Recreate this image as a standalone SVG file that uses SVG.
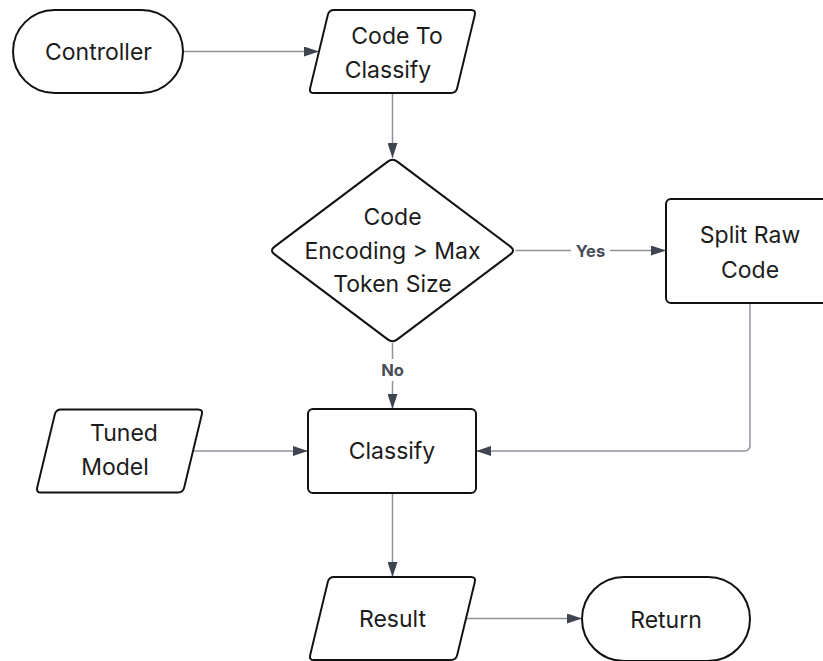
<svg xmlns="http://www.w3.org/2000/svg" width="823" height="661" viewBox="0 0 823 661">
  <style>
    .shape { fill: #ffffff; stroke: #111111; stroke-width: 2; stroke-linejoin: round; }
    .label { font-family: Inter, "Noto Sans", "Liberation Sans", sans-serif; font-size: 23px; fill: #1c1c1c; text-anchor: middle; }
    .edge { fill: none; stroke: #8e939b; stroke-width: 1.5; }
    .edge-label { font-family: Inter, "Noto Sans", "Liberation Sans", sans-serif; font-size: 16.5px; font-weight: 700; fill: #474d58; text-anchor: middle; }
  </style>
  <defs>
    <marker id="arrow" markerUnits="userSpaceOnUse" viewBox="0 0 15 10" refX="15" refY="5" markerWidth="15" markerHeight="10" orient="auto">
      <path d="M0,0 L15,5 L0,10 Z" fill="#3e4450"/>
    </marker>
    <!-- data (input/output) shape, centred on the origin -->
    <path id="para" d="M -58.5,-41.5 L 78.5,-41.5 Q 83.5,-41.5 82.33,-36.64 L 64.67,36.64 Q 63.5,41.5 58.5,41.5 L -78.5,41.5 Q -83.5,41.5 -82.33,36.64 L -64.67,-36.64 Q -63.5,-41.5 -58.5,-41.5 Z"/>
  </defs>

  <rect width="823" height="661" fill="#ffffff"/>

  <g id="connectors">
    <line class="edge" x1="183" y1="51.5" x2="319" y2="51.5" marker-end="url(#arrow)"/>
    <line class="edge" x1="392.5" y1="93" x2="392.5" y2="158" marker-end="url(#arrow)"/>
    <line class="edge" x1="515.5" y1="250.5" x2="666" y2="250.5" marker-end="url(#arrow)"/>
    <line class="edge" x1="392.5" y1="343" x2="392.5" y2="409" marker-end="url(#arrow)"/>
    <path class="edge" d="M 750,303 V 445 Q 750,451 744,451 H 476" marker-end="url(#arrow)"/>
    <line class="edge" x1="193" y1="451" x2="308" y2="451" marker-end="url(#arrow)"/>
    <line class="edge" x1="392.5" y1="493" x2="392.5" y2="577" marker-end="url(#arrow)"/>
    <line class="edge" x1="466" y1="618.5" x2="582" y2="618.5" marker-end="url(#arrow)"/>
    <rect x="571" y="240" width="39" height="22" fill="#ffffff"/>
    <text class="edge-label" x="590.5" y="257">Yes</text>
    <rect x="379" y="359" width="27" height="22" fill="#ffffff"/>
    <text class="edge-label" x="392.5" y="376">No</text>
  </g>

  <g id="controller">
    <rect class="shape" x="13" y="10" width="170" height="83" rx="41.5"/>
    <text class="label" x="98.5" y="60">Controller</text>
  </g>

  <g id="code-to-classify">
    <use href="#para" class="shape" transform="translate(392.5,51.5)"/>
    <text class="label" x="397" y="43.5">Code To</text>
    <text class="label" x="388" y="77.5">Classify</text>
  </g>

  <g id="size-check">
    <path class="shape" d="M 387.7,161.6 Q 392.5,158 397.3,161.6 L 510.7,246.9 Q 515.5,250.5 510.7,254.1 L 397.3,339.4 Q 392.5,343 387.7,339.4 L 274.3,254.1 Q 269.5,250.5 274.3,246.9 Z"/>
    <text class="label" x="392.5" y="224.5">Code</text>
    <text class="label" x="392.5" y="258.5">Encoding &gt; Max</text>
    <text class="label" x="392.5" y="292">Token Size</text>
  </g>

  <g id="split-raw-code">
    <rect class="shape" x="666" y="199" width="168" height="104" rx="5"/>
    <text class="label" x="750" y="243">Split Raw</text>
    <text class="label" x="750" y="277.5">Code</text>
  </g>

  <g id="tuned-model">
    <use href="#para" class="shape" transform="translate(119.5,451)"/>
    <text class="label" x="124" y="440.5">Tuned</text>
    <text class="label" x="115" y="474.5">Model</text>
  </g>

  <g id="classify">
    <rect class="shape" x="308" y="409" width="168" height="84" rx="5"/>
    <text class="label" x="392" y="459">Classify</text>
  </g>

  <g id="result">
    <use href="#para" class="shape" transform="translate(392.5,618.5)"/>
    <text class="label" x="392.5" y="627">Result</text>
  </g>

  <g id="return">
    <rect class="shape" x="582" y="577" width="168" height="84" rx="42"/>
    <text class="label" x="666" y="627.5">Return</text>
  </g>
</svg>
